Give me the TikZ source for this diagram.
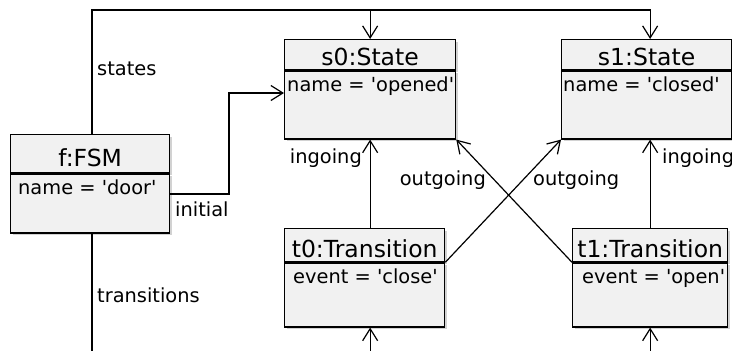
\documentclass[tikz,border=0pt]{standalone}
\usepackage{fontspec}
\setmainfont{DejaVu Sans}
\newfontfamily\umlfont{DejaVu Sans}
\usetikzlibrary{arrows.meta,shadows}
\definecolor{objfill}{HTML}{F1F1F1}
\newcommand{\titlesize}{\umlfont\fontsize{23.5pt}{28pt}\selectfont}
\newcommand{\attrsize}{\umlfont\fontsize{19.4pt}{23pt}\selectfont}

\begin{document}
\begin{tikzpicture}[x=1pt,y=-1pt]
  \tikzstyle{objhead}=[draw,fill=objfill,line width=1.3pt,inner sep=0pt,anchor=north west,
    font=\titlesize,text depth=0pt,drop shadow={shadow xshift=2.5pt,shadow yshift=-2.5pt,fill=black!35}]
  \tikzstyle{objbody}=[draw,fill=objfill,line width=1.3pt,inner sep=0pt,anchor=north,
    drop shadow={shadow xshift=2.5pt,shadow yshift=-2.5pt,fill=black!35}]
  \tikzstyle{attr}=[font=\attrsize,inner sep=0pt,anchor=base west]
  \tikzstyle{role}=[font=\attrsize,inner sep=0pt]
  \tikzstyle{line}=[draw,line width=1.2pt,-{Straight Barb[length=12pt,width=15pt]}]

  \useasboundingbox (0,0) rectangle (732,351);
  \clip (0,0) rectangle (732,351);

  % objects
  \node[objhead,minimum width=159pt,minimum height=38pt,text height=26pt] (f) at (10,134) {f:FSM};
  \node[objbody,minimum width=159pt,minimum height=59pt] (fb) at (f.south) {};
  \node[attr] (fa) at ([xshift=8pt,yshift=-21pt]fb.north west) {name = 'door'};

  \node[objhead,minimum width=171pt,minimum height=30pt,text height=22pt] (s0) at (284,39) {s0:State};
  \node[objbody,minimum width=171pt,minimum height=68pt] (s0b) at (s0.south) {};
  \node[attr] (s0a) at ([xshift=3pt,yshift=-21pt]s0b.north west) {name = 'opened'};

  \node[objhead,minimum width=170pt,minimum height=30pt,text height=22pt] (s1) at (561,39) {s1:State};
  \node[objbody,minimum width=170pt,minimum height=68pt] (s1b) at (s1.south) {};
  \node[attr] (s1a) at ([xshift=2pt,yshift=-21pt]s1b.north west) {name = 'closed'};

  \node[objhead,minimum width=160pt,minimum height=33pt,text height=25pt] (t0) at (284,228) {t0:Transition};
  \node[objbody,minimum width=160pt,minimum height=64pt] (t0b) at (t0.south) {};
  \node[attr] (t0a) at ([xshift=9pt,yshift=-21pt]t0b.north west) {event = 'close'};

  \node[objhead,minimum width=155pt,minimum height=33pt,text height=25pt] (t1) at (572,228) {t1:Transition};
  \node[objbody,minimum width=155pt,minimum height=64pt] (t1b) at (t1.south) {};
  \node[attr] (t1a) at ([xshift=10pt,yshift=-21pt]t1b.north west) {event = 'open'};

  % links
  \coordinate (rail) at (92,10);
  \coordinate (tbus) at (92,380);
  \coordinate (ibend) at (229,93);
  \draw[line] (f.north -| rail) -- (rail) -| (s1.north -| t1.north);
  \draw[line] (rail -| s0.north) -- (s0.north);
  \draw[line] ([yshift=9.5pt]fb.east) -| (ibend) -- (s0b.west |- ibend);
  \draw[line] (fb.south -| tbus) -- (tbus) -| (t1b.south);
  \draw[line] (tbus -| s0.north) -- (t0b.south -| s0.north);
  \draw[line] (t0.north -| s0b.south) -- (s0b.south);
  \draw[line] (t1.north) -- (s1b.south -| t1.north);
  \draw[line] (t0.south east) -- (s1b.south west);
  \draw[line] (t1.south west) -- (s0b.south east);

  % roles
  \node[role,anchor=base west] (lstates) at (97,75) {states};
  \node[role,anchor=base west] (ltrans) at (97,302) {transitions};
  \node[role,anchor=base west] (linit) at (175,216) {initial};
  \node[role,anchor=base east] (lin0) at (362,163) {ingoing};
  \node[role,anchor=base west] (lin1) at (662,163) {ingoing};
  \node[role,anchor=base east] (lout0) at (486,185) {outgoing};
  \node[role,anchor=base west] (lout1) at (533,185) {outgoing};
\end{tikzpicture}
\end{document}
